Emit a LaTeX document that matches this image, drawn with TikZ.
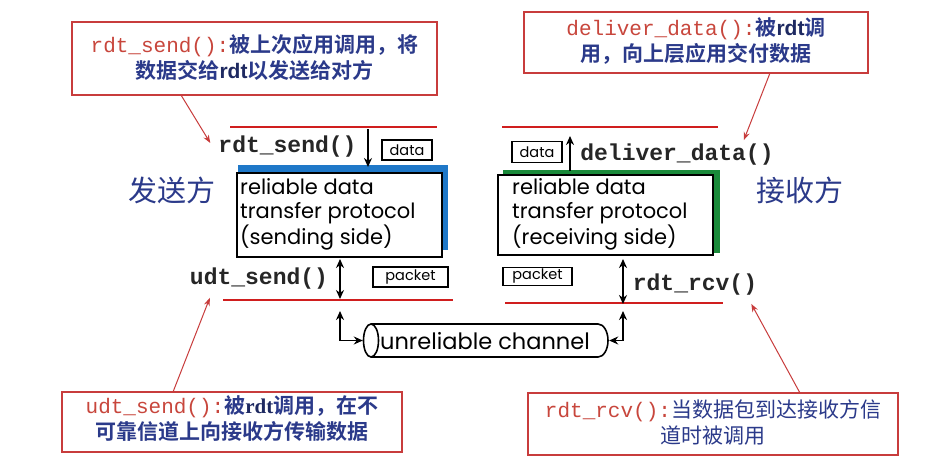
\documentclass[tikz,border=0pt]{standalone}
\usepackage{fontspec}
\usetikzlibrary{arrows.meta,calc}
\setmainfont{Liberation Serif}
\newfontfamily\cjk{Noto Sans CJK SC}
\newfontfamily\cjkb{Noto Sans CJK SC Bold}
\newfontfamily\monof{Liberation Mono}
\newfontfamily\sansf{Poppins}
\newfontfamily\arialf{Liberation Sans}
\definecolor{codered}{HTML}{C8463C}
\definecolor{navy}{HTML}{2B3A8A}
\definecolor{boxred}{HTML}{C83C3C}
\definecolor{linered}{HTML}{D01E1E}
\definecolor{shblue}{HTML}{1F78C8}
\definecolor{shgreen}{HTML}{1A8A3A}
\begin{document}
\begin{tikzpicture}[x=1pt,y=-1pt,
  callout/.style={draw=boxred, line width=1.6pt, fill=white, inner sep=0pt, align=center},
  ctext/.style={align=center, inner sep=0pt, font=\fontsize{21}{26}\selectfont},
  fname/.style={inner sep=0pt, font=\fontsize{23}{23}\monof\bfseries, text=black!85},
  tagbox/.style={draw=black, line width=1.6pt, inner sep=0pt, font=\fontsize{14.5}{14.5}\sansf},
  protobox/.style={draw=black, line width=1.8pt, fill=white, inner sep=0pt},
  prototext/.style={align=left, inner sep=0pt, anchor=west, font=\fontsize{21}{24.5}\sansf},
  layer/.style={draw=linered, line width=2.6pt},
  rarrow/.style={draw=boxred, line width=1pt, -{Stealth[length=8pt,width=6pt]}},
  barrow/.style={draw=black, line width=1.8pt, -{Stealth[length=9pt,width=8pt]}},
  bbarrow/.style={draw=black, line width=1.8pt, {Stealth[length=9pt,width=8pt]}-{Stealth[length=9pt,width=8pt]}},
  side/.style={inner sep=0pt, text=navy, font=\fontsize{29}{29}\cjk}
]
\useasboundingbox (0,0) rectangle (927,475);
\fill[white] (0,0) rectangle (927,475);

% ---------- callouts ----------
\node[callout, minimum width=365pt, minimum height=73pt] (c1) at (254.5,58.5) {};
\node[ctext] (t1) at (254.5,57) {{\monof\color{codered}rdt\_send():}{\cjkb\color{navy}被上次应用调用，将}\\
  {\cjkb\color{navy}数据交给}{\arialf\bfseries\color{navy!70!black}rdt}{\cjkb\color{navy}以发送给对方}};

\node[callout, minimum width=344pt, minimum height=61pt] (c2) at (696,42.5) {};
\node[ctext] (t2) at (696,41.5) {{\monof\color{codered}deliver\_data():}{\cjkb\color{navy} 被}{\arialf\bfseries\color{navy!70!black}rdt}{\cjkb\color{navy}调}\\
  {\cjkb\color{navy}用，向上层应用交付数据}};

\node[callout, minimum width=340pt, minimum height=60pt] (c3) at (232,422) {};
\node[ctext] (t3) at (232,418.5) {{\monof\color{codered}udt\_send():}{\cjkb\color{navy} 被}{\bfseries\color{navy!70!black}rdt}{\cjkb\color{navy}调用，在不}\\
  {\cjkb\color{navy}可靠信道上向接收方传输数据}};

\node[callout, minimum width=370pt, minimum height=62pt] (c4) at (713,424) {};
\node[ctext] (t4) at (713,423) {{\monof\color{codered}rdt\_rcv():}{\cjk\color{navy} 当数据包到达接收方信}\\
  {\cjk\color{navy}道时被调用}};

% ---------- sender side ----------
\draw[layer] (230,127) -- (437,127);
\draw[layer] (223,300) -- (453,300);
\fill[shblue] (238,165) rectangle (448,250);
\node[protobox, minimum width=205pt, minimum height=84pt] (sbox) at (339.5,215) {};
\node[prototext] (stxt) at (240,214.5) {reliable data\\transfer protocol\\(sending side)};

\node[fname] (rdtsend) at (287.5,147) {rdt\_send()};
\node[tagbox, minimum width=50pt, minimum height=20pt] (data1) at (407,150) {data};
\node[fname] (udtsend) at (259,279) {udt\_send()};
\node[tagbox, minimum width=75pt, minimum height=20pt] (pkt1) at (410.5,277) {packet};
\node[side] (sender) at (172,190) {发送方};

\coordinate (s1) at (368,129);
\coordinate (s2) at (368,167);
\draw[barrow] (s1) -- (s2);
\coordinate (s3) at (340,259);
\coordinate (s4) at (340,299);
\draw[bbarrow] (s3) -- (s4);

% ---------- receiver side ----------
\draw[layer] (502,127) -- (718,127);
\draw[layer] (505,303) -- (723,303);
\fill[shgreen] (503,170) rectangle (720,253);
\node[protobox, minimum width=215pt, minimum height=80pt] (rbox) at (605.5,215) {};
\node[prototext] (rtxt) at (512,214.5) {reliable data\\transfer protocol\\(receiving side)};

\node[fname] (deliver) at (677,155) {deliver\_data()};
\node[tagbox, minimum width=50pt, minimum height=21pt] (data2) at (537,152) {data};
\node[fname] (rdtrcv) at (695,285) {rdt\_rcv()};
\node[tagbox, minimum width=69pt, minimum height=18pt] (pkt2) at (537.5,276.5) {packet};
\node[side] (receiver) at (800,190) {接收方};

\coordinate (r1) at (570,171);
\coordinate (r2) at (570,136);
\draw[barrow] (r1) -- (r2);
\coordinate (r3) at (623,259);
\coordinate (r4) at (623,304);
\draw[bbarrow] (r3) -- (r4);

% ---------- channel ----------
\node[inner sep=0pt, minimum width=245pt, minimum height=33pt] (chan) at (485.5,340.5) {};
\draw[line width=1.6pt] (371,324) -- (598,324) arc[start angle=-90, end angle=90, x radius=10, y radius=16.5] -- (371,357);
\fill[white] (371,340.5) ellipse[x radius=7.5, y radius=16.5];
\draw[line width=1.6pt] (371,340.5) ellipse[x radius=7.5, y radius=16.5];
\node[inner sep=0pt, font=\fontsize{22.5}{22.5}\sansf] (chtext) at (485,341) {unreliable channel};

\coordinate (cl) at (340,311);
\draw[bbarrow] (cl) |- (chan.west);
\coordinate (cr) at (623,311);
\draw[bbarrow] (cr) |- ($(chan.east)+(1,0)$);

% ---------- callout arrows ----------
\coordinate (a1) at (181,95);
\draw[rarrow] (a1) -- ($(rdtsend.west)+(-8,-4)$);
\coordinate (a2) at (770,73);
\draw[rarrow] (a2) -- ($(deliver.north east)+(-30,-4)$);
\coordinate (a3) at (173,392);
\draw[rarrow] (a3) -- ($(udtsend.south west)+(20,8)$);
\coordinate (a4) at (800,393);
\draw[rarrow] (a4) -- ($(rdtrcv.south east)+(-6,8)$);
\end{tikzpicture}
\end{document}
